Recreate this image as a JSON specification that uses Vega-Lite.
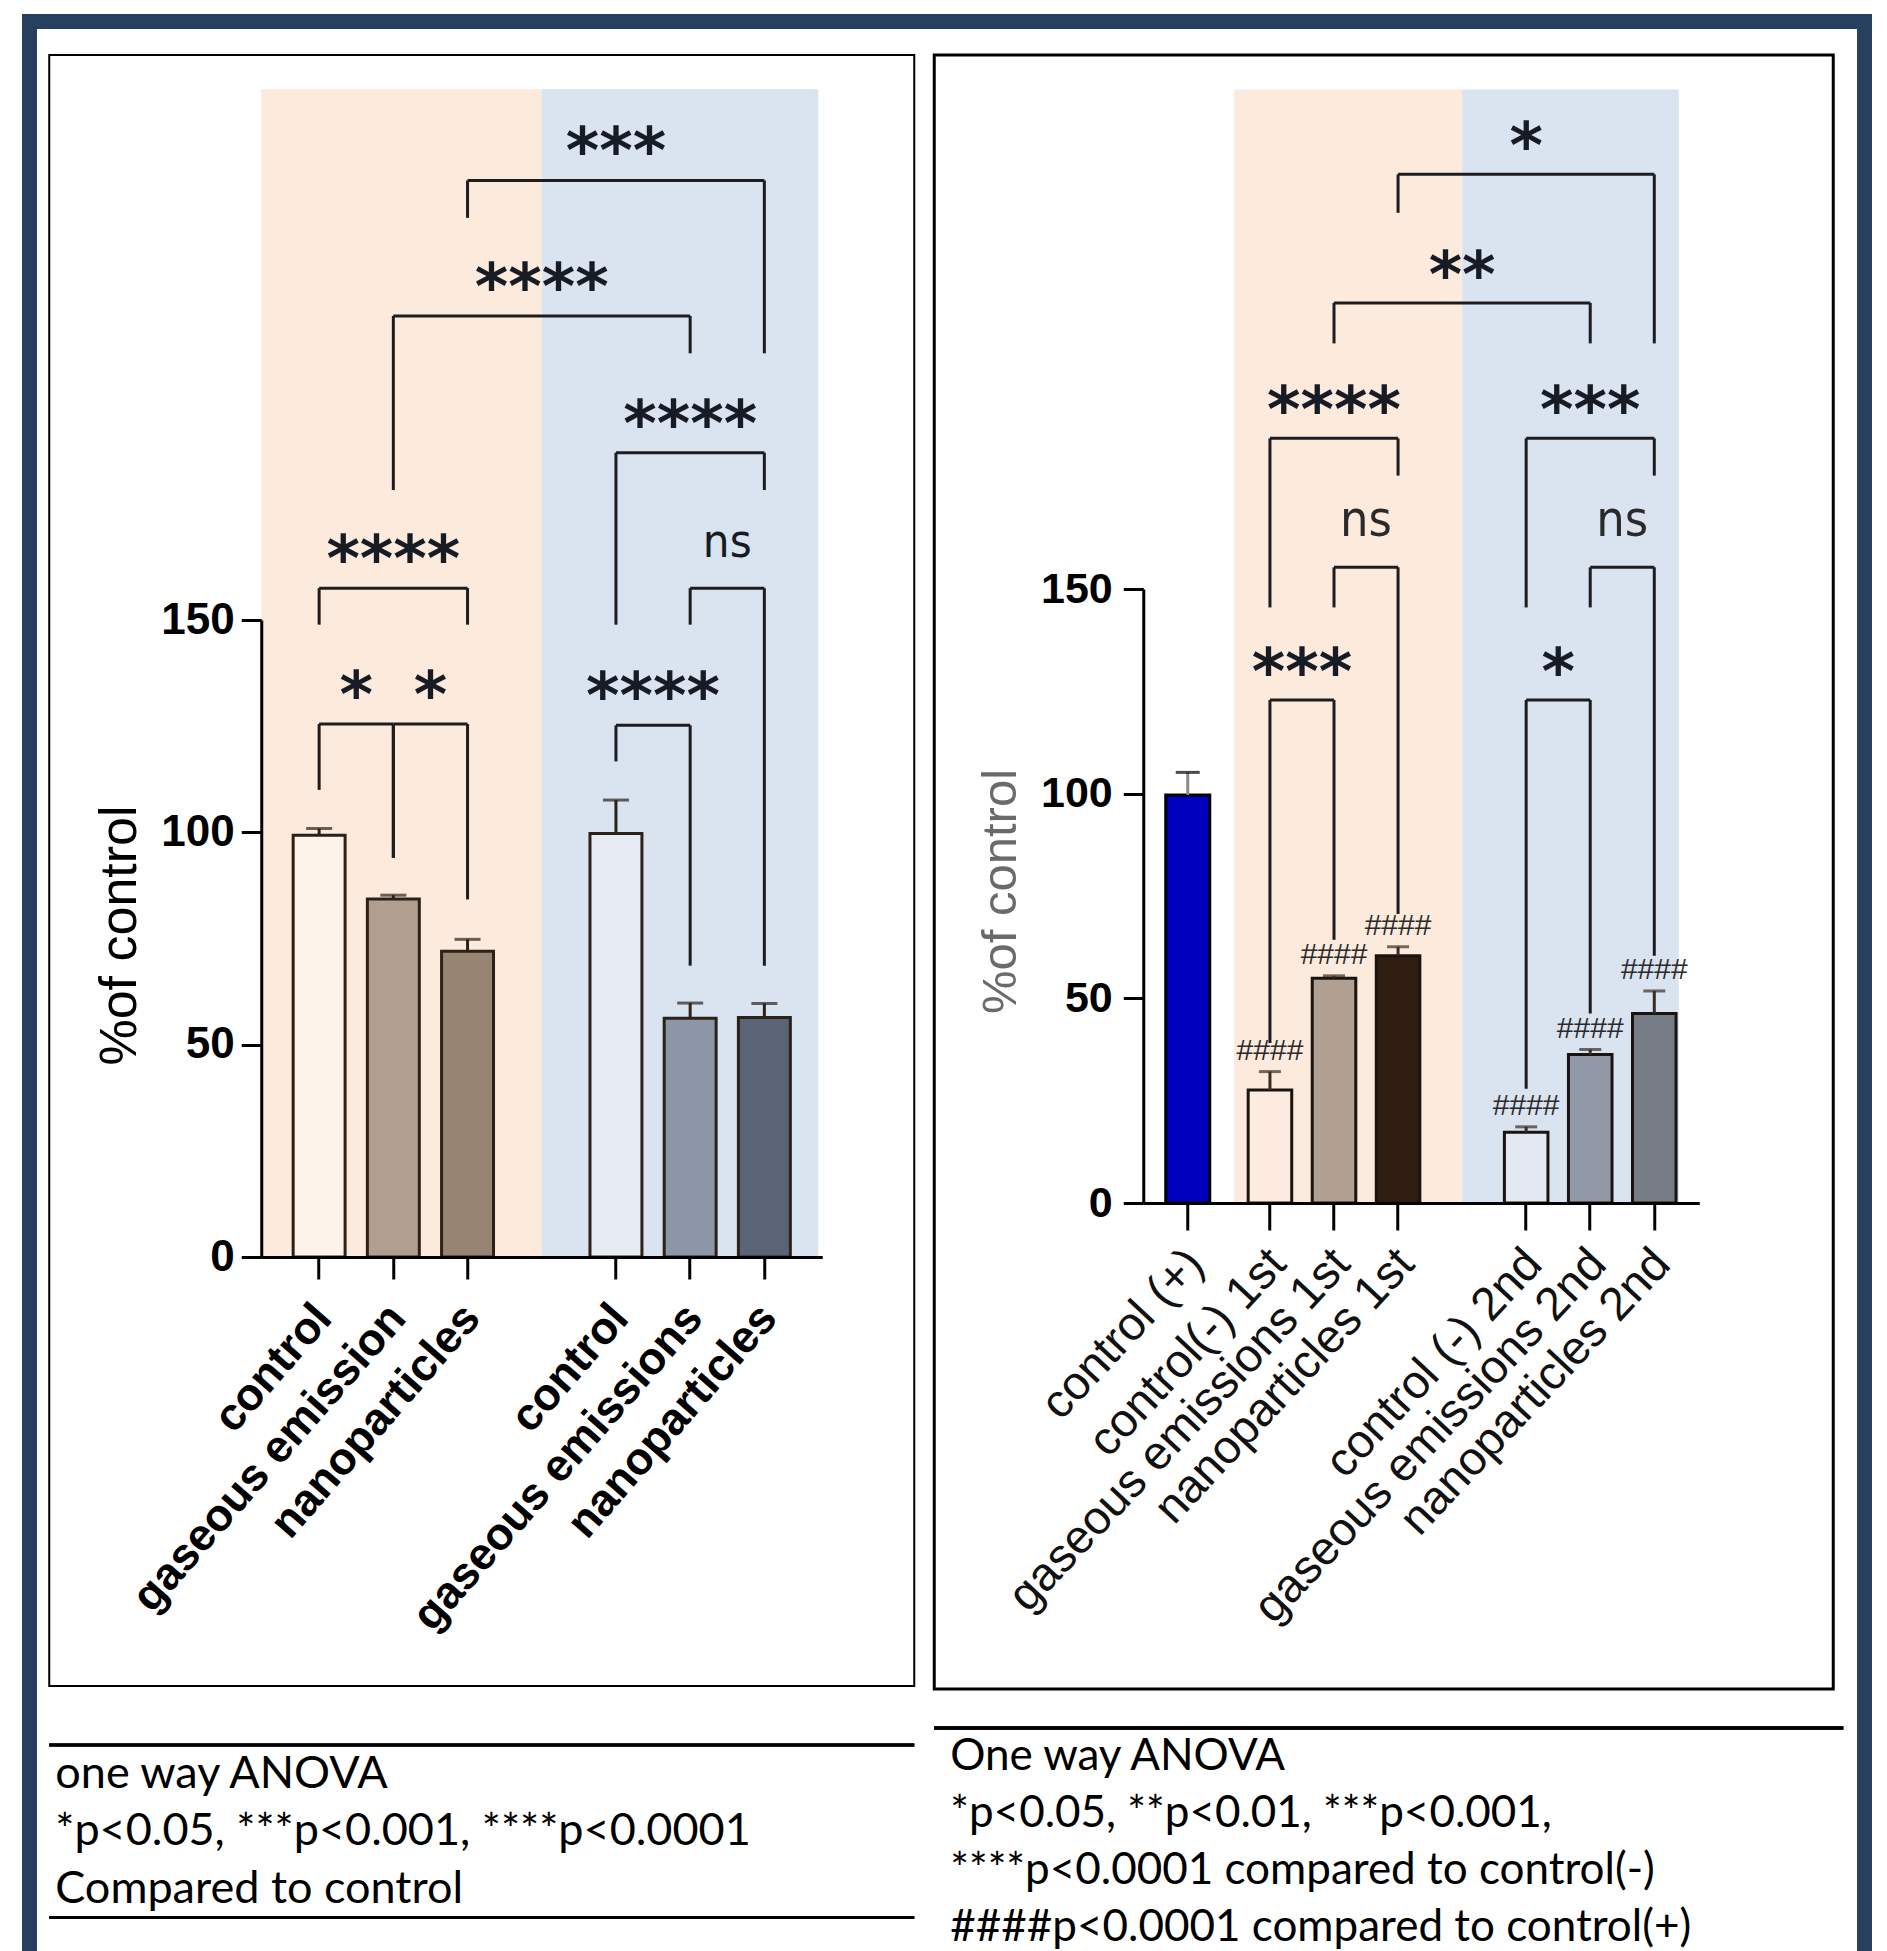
{
  "$schema": "https://vega.github.io/schema/vega-lite/v6.json",
  "background": "white",
  "padding": {"left": 22, "top": 14, "right": 0, "bottom": 0},
  "config": {"view": {"stroke": null}, "axis": {"grid": false}},
  "resolve": {"scale": {"fill": "independent"}},
  "datasets": {
    "leftBars": [
      {"id": "control|A", "mean": 99.3, "upper": 100.9},
      {"id": "gaseous emission|A", "mean": 84.3, "upper": 85.2},
      {"id": "nanoparticles|A", "mean": 72.0, "upper": 74.8},
      {"id": "control|B", "mean": 99.7, "upper": 107.6},
      {"id": "gaseous emissions|B", "mean": 56.2, "upper": 59.8},
      {"id": "nanoparticles|B", "mean": 56.4, "upper": 59.7}
    ],
    "leftBrackets": [
      {"from": "control|A", "to": "gaseous emission|A", "level": 125.5, "endL": 110, "endR": 94, "label": "*", "at": "control|A", "half": true},
      {"from": "gaseous emission|A", "to": "nanoparticles|A", "level": 125.5, "endL": 94, "endR": 84.2, "label": "*", "at": "gaseous emission|A", "half": true},
      {"from": "control|A", "to": "nanoparticles|A", "level": 157.5, "endL": 148.9, "endR": 148.9, "label": "****", "at": "gaseous emission|A", "half": false},
      {"from": "control|B", "to": "gaseous emissions|B", "level": 125.2, "endL": 116.7, "endR": 68.6, "label": "****", "at": "control|B", "half": true},
      {"from": "gaseous emissions|B", "to": "nanoparticles|B", "level": 157.5, "endL": 148.9, "endR": 68.6, "label": "ns", "at": "gaseous emissions|B", "half": true},
      {"from": "control|B", "to": "nanoparticles|B", "level": 189.4, "endL": 148.9, "endR": 180.6, "label": "****", "at": "gaseous emissions|B", "half": false},
      {"from": "gaseous emission|A", "to": "gaseous emissions|B", "level": 221.6, "endL": 180.6, "endR": 212.8, "label": "****", "at": "gap", "half": false},
      {"from": "nanoparticles|A", "to": "nanoparticles|B", "level": 253.5, "endL": 244.7, "endR": 212.8, "label": "***", "at": "control|B", "half": false}
    ],
    "rightBars": [
      {"id": "control(-) 1st", "mean": 27.6, "upper": 32.1, "sig": "####"},
      {"id": "gaseous emissions 1st", "mean": 54.9, "upper": 55.5, "sig": "####"},
      {"id": "nanoparticles 1st", "mean": 60.4, "upper": 62.6, "sig": "####"},
      {"id": "control (-) 2nd", "mean": 17.3, "upper": 18.6, "sig": "####"},
      {"id": "gaseous emissions 2nd", "mean": 36.3, "upper": 37.5, "sig": "####"},
      {"id": "nanoparticles 2nd", "mean": 46.3, "upper": 51.8, "sig": "####"}
    ],
    "plusBar": [
      {"id": "control (+)", "mean": 99.7, "upper": 105.2}
    ],
    "rightBrackets": [
      {"from": "control(-) 1st", "to": "gaseous emissions 1st", "level": 122.9, "endL": 39.1, "endR": 64.3, "label": "***", "at": "control(-) 1st", "half": true},
      {"from": "gaseous emissions 1st", "to": "nanoparticles 1st", "level": 155.3, "endL": 145.5, "endR": 70.6, "label": "ns", "at": "gaseous emissions 1st", "half": true},
      {"from": "control(-) 1st", "to": "nanoparticles 1st", "level": 186.8, "endL": 145.5, "endR": 177.7, "label": "****", "at": "gaseous emissions 1st", "half": false},
      {"from": "control (-) 2nd", "to": "gaseous emissions 2nd", "level": 122.9, "endL": 27.9, "endR": 46.3, "label": "*", "at": "control (-) 2nd", "half": true},
      {"from": "gaseous emissions 2nd", "to": "nanoparticles 2nd", "level": 155.3, "endL": 145.5, "endR": 60.4, "label": "ns", "at": "gaseous emissions 2nd", "half": true},
      {"from": "control (-) 2nd", "to": "nanoparticles 2nd", "level": 186.8, "endL": 145.5, "endR": 177.7, "label": "***", "at": "gaseous emissions 2nd", "half": false},
      {"from": "gaseous emissions 1st", "to": "gaseous emissions 2nd", "level": 219.9, "endL": 210, "endR": 210, "label": "**", "at": "gap", "half": false},
      {"from": "nanoparticles 1st", "to": "nanoparticles 2nd", "level": 251.3, "endL": 241.9, "endR": 210, "label": "*", "at": "control (-) 2nd", "half": false}
    ],
    "leftNotes": [
      {"line": "1", "text": "one way ANOVA"},
      {"line": "2", "text": "*p<0.05, ***p<0.001, ****p<0.0001"},
      {"line": "3", "text": "Compared to control"}
    ],
    "rightNotes": [
      {"line": "1", "text": "One way ANOVA"},
      {"line": "2", "text": "*p<0.05, **p<0.01, ***p<0.001,"},
      {"line": "3", "text": "****p<0.0001 compared to control(-)"},
      {"line": "4", "text": "####p<0.0001 compared to control(+)"}
    ]
  },
  "spacing": 0,
  "hconcat": [
    {
      "width": 15, "height": 1960,
      "view": {"fill": "#27405F", "stroke": null},
      "data": {"values": [{}]},
      "mark": {"type": "rect", "color": "#27405F"},
      "encoding": {}
    },
    {
      "spacing": 24,
      "center": true,
      "resolve": {"scale": {"fill": "independent"}},
      "vconcat": [
        {
          "width": 1820, "height": 15,
          "view": {"fill": "#27405F", "stroke": null},
          "data": {"values": [{}]},
          "mark": {"type": "rect", "color": "#27405F"},
          "encoding": {}
        },
        {
          "spacing": 16,
          "resolve": {"scale": {"fill": "independent"}},
          "hconcat": [
            {
              "spacing": 56,
              "vconcat": [
                {
                  "width": 865, "height": 1631,
                  "view": {"stroke": "#000", "strokeWidth": 2},
                  "layer": [
                    {
                      "data": {"values": [{"series": "A"}]},
                      "mark": {"type": "rect", "color": "#FCEADC"},
                      "encoding": {
                        "x": {"datum": "control|A", "type": "nominal", "bandPosition": -0.614,
                              "scale": {"domain": ["control|A", "gaseous emission|A", "nanoparticles|A", "gap", "control|B", "gaseous emissions|B", "nanoparticles|B"], "range": [212, 773], "paddingInner": 0.3, "paddingOuter": 0.43}},
                        "x2": {"datum": "gap", "bandPosition": 0.5},
                        "y": {"datum": 0, "type": "quantitative", "scale": {"domain": [0, 150], "range": [1202, 565], "nice": false, "zero": false}},
                        "y2": {"datum": 275}
                      }
                    },
                    {
                      "data": {"values": [{"series": "B"}]},
                      "mark": {"type": "rect", "color": "#DAE3F0"},
                      "encoding": {
                        "x": {"datum": "gap", "type": "nominal", "bandPosition": 0.5,
                              "scale": {"domain": ["control|A", "gaseous emission|A", "nanoparticles|A", "gap", "control|B", "gaseous emissions|B", "nanoparticles|B"], "range": [212, 773], "paddingInner": 0.3, "paddingOuter": 0.43}},
                        "x2": {"datum": "nanoparticles|B", "bandPosition": 1.538},
                        "y": {"datum": 0, "type": "quantitative", "scale": {"domain": [0, 150], "range": [1202, 565], "nice": false, "zero": false}},
                        "y2": {"datum": 275}
                      }
                    },
                    {
                      "data": {"name": "leftBars"},
                      "mark": {"type": "bar", "stroke": "#2b2119", "strokeWidth": 3},
                      "encoding": {
                        "x": {"field": "id", "type": "nominal",
                              "scale": {"domain": ["control|A", "gaseous emission|A", "nanoparticles|A", "gap", "control|B", "gaseous emissions|B", "nanoparticles|B"], "range": [212, 773], "paddingInner": 0.3, "paddingOuter": 0.43},
                              "axis": {"orient": "bottom", "offset": -429, "values": ["control|A", "gaseous emission|A", "nanoparticles|A", "control|B", "gaseous emissions|B", "nanoparticles|B"],
                                       "labelExpr": "split(datum.value, '|')[0]", "labelAngle": -49, "labelFont": "Liberation Sans", "labelFontWeight": "bold", "labelFontSize": 45, "labelColor": "#000",
                                       "labelPadding": 31, "labelOffset": 4, "labelOverlap": false, "labelBound": false, "labelFlush": false, "labelLimit": 1000,
                                       "tickSize": 22, "tickWidth": 3, "tickColor": "#000", "domainWidth": 3, "domainColor": "#000", "title": null, "zindex": 1}},
                        "y": {"field": "mean", "type": "quantitative",
                              "scale": {"domain": [0, 150], "range": [1202, 565], "nice": false, "zero": false},
                              "axis": {"orient": "left", "offset": -212, "values": [0, 50, 100, 150], "labelFont": "Liberation Sans", "labelFontWeight": "bold", "labelFontSize": 44, "labelColor": "#000", "labelPadding": 7,
                                       "tickSize": 20, "tickWidth": 3, "tickColor": "#000", "domainWidth": 3, "domainColor": "#000", "grid": false,
                                       "title": "%of control", "titleFont": "Liberation Sans", "titleFontWeight": "normal", "titleFontSize": 52, "titleColor": "#000", "titleAngle": -90, "titleAlign": "center", "titleBaseline": "middle", "titleX": -142, "titleY": 880, "zindex": 1}},
                        "fill": {"field": "id", "type": "nominal", "legend": null,
                                 "scale": {"domain": ["control|A", "gaseous emission|A", "nanoparticles|A", "control|B", "gaseous emissions|B", "nanoparticles|B"], "range": ["#FDF3EB", "#B09E8F", "#978473", "#E7ECF4", "#8D96A6", "#5B6477"]}}
                      }
                    },
                    {
                      "data": {"name": "leftBars"},
                      "mark": {"type": "rule", "color": "#2b2119", "strokeWidth": 3},
                      "encoding": {
                        "x": {"field": "id", "type": "nominal", "scale": {"domain": ["control|A", "gaseous emission|A", "nanoparticles|A", "gap", "control|B", "gaseous emissions|B", "nanoparticles|B"], "range": [212, 773], "paddingInner": 0.3, "paddingOuter": 0.43}},
                        "y": {"field": "mean", "type": "quantitative", "scale": {"domain": [0, 150], "range": [1202, 565], "nice": false, "zero": false}},
                        "y2": {"field": "upper"}
                      }
                    },
                    {
                      "data": {"name": "leftBars"},
                      "mark": {"type": "tick", "orient": "horizontal", "color": "#2b2119", "size": 26, "thickness": 3},
                      "encoding": {
                        "x": {"field": "id", "type": "nominal", "scale": {"domain": ["control|A", "gaseous emission|A", "nanoparticles|A", "gap", "control|B", "gaseous emissions|B", "nanoparticles|B"], "range": [212, 773], "paddingInner": 0.3, "paddingOuter": 0.43}},
                        "y": {"field": "upper", "type": "quantitative", "scale": {"domain": [0, 150], "range": [1202, 565], "nice": false, "zero": false}}
                      }
                    },
                    {
                      "data": {"name": "leftBrackets"},
                      "mark": {"type": "rule", "color": "#1d1d1f", "strokeWidth": 3},
                      "encoding": {
                        "x": {"field": "from", "type": "nominal", "scale": {"domain": ["control|A", "gaseous emission|A", "nanoparticles|A", "gap", "control|B", "gaseous emissions|B", "nanoparticles|B"], "range": [212, 773], "paddingInner": 0.3, "paddingOuter": 0.43}},
                        "x2": {"field": "to", "bandPosition": 0.5},
                        "y": {"field": "level", "type": "quantitative", "scale": {"domain": [0, 150], "range": [1202, 565], "nice": false, "zero": false}}
                      }
                    },
                    {
                      "data": {"name": "leftBrackets"},
                      "mark": {"type": "rule", "color": "#1d1d1f", "strokeWidth": 3},
                      "encoding": {
                        "x": {"field": "from", "type": "nominal", "scale": {"domain": ["control|A", "gaseous emission|A", "nanoparticles|A", "gap", "control|B", "gaseous emissions|B", "nanoparticles|B"], "range": [212, 773], "paddingInner": 0.3, "paddingOuter": 0.43}},
                        "y": {"field": "level", "type": "quantitative", "scale": {"domain": [0, 150], "range": [1202, 565], "nice": false, "zero": false}},
                        "y2": {"field": "endL"}
                      }
                    },
                    {
                      "data": {"name": "leftBrackets"},
                      "mark": {"type": "rule", "color": "#1d1d1f", "strokeWidth": 3},
                      "encoding": {
                        "x": {"field": "to", "type": "nominal", "scale": {"domain": ["control|A", "gaseous emission|A", "nanoparticles|A", "gap", "control|B", "gaseous emissions|B", "nanoparticles|B"], "range": [212, 773], "paddingInner": 0.3, "paddingOuter": 0.43}},
                        "y": {"field": "level", "type": "quantitative", "scale": {"domain": [0, 150], "range": [1202, 565], "nice": false, "zero": false}},
                        "y2": {"field": "endR"}
                      }
                    },
                    {
                      "data": {"name": "leftBrackets"},
                      "transform": [{"filter": "datum.label != 'ns' && !datum.half"}],
                      "mark": {"type": "text", "font": "DejaVu Sans", "fontWeight": "bold", "fontSize": 64, "baseline": "alphabetic", "align": "center", "dy": -7, "color": "#171b24"},
                      "encoding": {
                        "x": {"field": "at", "type": "nominal", "scale": {"domain": ["control|A", "gaseous emission|A", "nanoparticles|A", "gap", "control|B", "gaseous emissions|B", "nanoparticles|B"], "range": [212, 773], "paddingInner": 0.3, "paddingOuter": 0.43}},
                        "y": {"field": "level", "type": "quantitative", "scale": {"domain": [0, 150], "range": [1202, 565], "nice": false, "zero": false}},
                        "text": {"field": "label"}
                      }
                    },
                    {
                      "data": {"name": "leftBrackets"},
                      "transform": [{"filter": "datum.label != 'ns' && datum.half"}],
                      "mark": {"type": "text", "font": "DejaVu Sans", "fontWeight": "bold", "fontSize": 64, "baseline": "alphabetic", "align": "center", "dy": -7, "color": "#171b24"},
                      "encoding": {
                        "x": {"field": "at", "type": "nominal", "bandPosition": 1.2143, "scale": {"domain": ["control|A", "gaseous emission|A", "nanoparticles|A", "gap", "control|B", "gaseous emissions|B", "nanoparticles|B"], "range": [212, 773], "paddingInner": 0.3, "paddingOuter": 0.43}},
                        "y": {"field": "level", "type": "quantitative", "scale": {"domain": [0, 150], "range": [1202, 565], "nice": false, "zero": false}},
                        "text": {"field": "label"}
                      }
                    },
                    {
                      "data": {"name": "leftBrackets"},
                      "transform": [{"filter": "datum.label == 'ns'"}],
                      "mark": {"type": "text", "font": "Liberation Sans Narrow, DejaVu Sans Condensed, sans-serif", "fontSize": 47, "baseline": "alphabetic", "align": "center", "dy": -31, "color": "#171b24"},
                      "encoding": {
                        "x": {"field": "at", "type": "nominal", "bandPosition": 1.2143, "scale": {"domain": ["control|A", "gaseous emission|A", "nanoparticles|A", "gap", "control|B", "gaseous emissions|B", "nanoparticles|B"], "range": [212, 773], "paddingInner": 0.3, "paddingOuter": 0.43}},
                        "y": {"field": "level", "type": "quantitative", "scale": {"domain": [0, 150], "range": [1202, 565], "nice": false, "zero": false}},
                        "text": {"field": "label"}
                      }
                    }
                  ]
                },
                {
                  "width": 865, "height": 172.5,
                  "data": {"name": "leftNotes"},
                  "layer": [
                    {
                      "mark": {"type": "text", "align": "left", "baseline": "middle", "font": "Lato", "fontSize": 45, "dx": 6, "color": "#000"},
                      "encoding": {
                        "x": {"value": 0},
                        "y": {"field": "line", "type": "ordinal", "axis": null, "scale": {"domain": ["1", "2", "3"], "paddingInner": 0, "paddingOuter": 0}},
                        "text": {"field": "text"}
                      }
                    },
                    {
                      "mark": {"type": "rule", "color": "#000", "strokeWidth": 3},
                      "encoding": {"y": {"datum": "1", "type": "ordinal", "bandPosition": 0, "axis": null, "scale": {"domain": ["1", "2", "3"], "paddingInner": 0, "paddingOuter": 0}}}
                    },
                    {
                      "mark": {"type": "rule", "color": "#000", "strokeWidth": 3},
                      "encoding": {"y": {"datum": "3", "type": "ordinal", "bandPosition": 1, "axis": null, "scale": {"domain": ["1", "2", "3"], "paddingInner": 0, "paddingOuter": 0}}}
                    }
                  ]
                }
              ]
            },
            {
              "spacing": 35,
              "vconcat": [
                {
                  "width": 899, "height": 1634,
                  "view": {"stroke": "#000", "strokeWidth": 3},
                  "resolve": {"scale": {"x": "independent"}, "axis": {"x": "independent"}},
                  "layer": [
                    {
                      "layer": [
                        {
                          "data": {"values": [{"series": "1st"}]},
                          "mark": {"type": "rect", "color": "#FCEADC"},
                          "encoding": {
                            "x": {"datum": "control(-) 1st", "type": "nominal", "bandPosition": -0.323,
                                  "scale": {"domain": ["control(-) 1st", "gaseous emissions 1st", "nanoparticles 1st", "gap", "control (-) 2nd", "gaseous emissions 2nd", "nanoparticles 2nd"], "range": [209, 765], "paddingInner": 0.32, "paddingOuter": 1.15, "align": 0.819}},
                            "x2": {"datum": "gap", "bandPosition": 0.5},
                            "y": {"datum": 0, "type": "quantitative", "scale": {"domain": [0, 150], "range": [1148, 534], "nice": false, "zero": false}},
                            "y2": {"datum": 272}
                          }
                        },
                        {
                          "data": {"values": [{"series": "2nd"}]},
                          "mark": {"type": "rect", "color": "#DAE3F0"},
                          "encoding": {
                            "x": {"datum": "gap", "type": "nominal", "bandPosition": 0.5,
                                  "scale": {"domain": ["control(-) 1st", "gaseous emissions 1st", "nanoparticles 1st", "gap", "control (-) 2nd", "gaseous emissions 2nd", "nanoparticles 2nd"], "range": [209, 765], "paddingInner": 0.32, "paddingOuter": 1.15, "align": 0.819}},
                            "x2": {"datum": "nanoparticles 2nd", "bandPosition": 1.062},
                            "y": {"datum": 0, "type": "quantitative", "scale": {"domain": [0, 150], "range": [1148, 534], "nice": false, "zero": false}},
                            "y2": {"datum": 272}
                          }
                        },
                        {
                          "data": {"name": "rightBars"},
                          "mark": {"type": "bar", "stroke": "#1a1410", "strokeWidth": 3},
                          "encoding": {
                            "x": {"field": "id", "type": "nominal",
                                  "scale": {"domain": ["control(-) 1st", "gaseous emissions 1st", "nanoparticles 1st", "gap", "control (-) 2nd", "gaseous emissions 2nd", "nanoparticles 2nd"], "range": [209, 765], "paddingInner": 0.32, "paddingOuter": 1.15, "align": 0.819},
                                  "axis": {"orient": "bottom", "offset": -486, "values": ["control(-) 1st", "gaseous emissions 1st", "nanoparticles 1st", "control (-) 2nd", "gaseous emissions 2nd", "nanoparticles 2nd"],
                                           "labelAngle": -47, "labelFont": "Liberation Sans", "labelFontWeight": "normal", "labelFontSize": 47, "labelColor": "#111",
                                           "labelPadding": 26, "labelOffset": 8, "labelOverlap": false, "labelBound": false, "labelFlush": false, "labelLimit": 1000,
                                           "tickSize": 27, "tickWidth": 3, "tickColor": "#000", "domainWidth": 3, "domainColor": "#000", "title": null, "zindex": 1}},
                            "y": {"field": "mean", "type": "quantitative",
                                  "scale": {"domain": [0, 150], "range": [1148, 534], "nice": false, "zero": false},
                                  "axis": {"orient": "left", "offset": -209, "values": [0, 50, 100, 150], "labelFont": "Liberation Sans", "labelFontWeight": "bold", "labelFontSize": 43, "labelColor": "#000", "labelPadding": 11,
                                           "tickSize": 20, "tickWidth": 3, "tickColor": "#000", "domainWidth": 3, "domainColor": "#000", "grid": false,
                                           "title": "%of control", "titleFont": "Liberation Sans", "titleFontWeight": "normal", "titleFontSize": 49, "titleColor": "#6a6a6a", "titleAngle": -90, "titleAlign": "center", "titleBaseline": "middle", "titleX": -143, "titleY": 836, "zindex": 1}},
                            "fill": {"field": "id", "type": "nominal", "legend": null,
                                     "scale": {"domain": ["control(-) 1st", "gaseous emissions 1st", "nanoparticles 1st", "control (-) 2nd", "gaseous emissions 2nd", "nanoparticles 2nd"], "range": ["#FCEBDE", "#B1A092", "#301E12", "#E2E9F2", "#9199A9", "#767C86"]}}
                          }
                        },
                        {
                          "data": {"name": "rightBars"},
                          "mark": {"type": "rule", "color": "#3a2c22", "strokeWidth": 3},
                          "encoding": {
                            "x": {"field": "id", "type": "nominal", "scale": {"domain": ["control(-) 1st", "gaseous emissions 1st", "nanoparticles 1st", "gap", "control (-) 2nd", "gaseous emissions 2nd", "nanoparticles 2nd"], "range": [209, 765], "paddingInner": 0.32, "paddingOuter": 1.15, "align": 0.819}},
                            "y": {"field": "mean", "type": "quantitative", "scale": {"domain": [0, 150], "range": [1148, 534], "nice": false, "zero": false}},
                            "y2": {"field": "upper"}
                          }
                        },
                        {
                          "data": {"name": "rightBars"},
                          "mark": {"type": "tick", "orient": "horizontal", "color": "#3a2c22", "size": 22, "thickness": 3},
                          "encoding": {
                            "x": {"field": "id", "type": "nominal", "scale": {"domain": ["control(-) 1st", "gaseous emissions 1st", "nanoparticles 1st", "gap", "control (-) 2nd", "gaseous emissions 2nd", "nanoparticles 2nd"], "range": [209, 765], "paddingInner": 0.32, "paddingOuter": 1.15, "align": 0.819}},
                            "y": {"field": "upper", "type": "quantitative", "scale": {"domain": [0, 150], "range": [1148, 534], "nice": false, "zero": false}}
                          }
                        },
                        {
                          "data": {"name": "rightBars"},
                          "mark": {"type": "text", "font": "Liberation Sans", "fontSize": 30, "baseline": "middle", "align": "center", "dy": -21, "color": "#2a2a2a"},
                          "encoding": {
                            "x": {"field": "id", "type": "nominal", "scale": {"domain": ["control(-) 1st", "gaseous emissions 1st", "nanoparticles 1st", "gap", "control (-) 2nd", "gaseous emissions 2nd", "nanoparticles 2nd"], "range": [209, 765], "paddingInner": 0.32, "paddingOuter": 1.15, "align": 0.819}},
                            "y": {"field": "upper", "type": "quantitative", "scale": {"domain": [0, 150], "range": [1148, 534], "nice": false, "zero": false}},
                            "text": {"field": "sig"}
                          }
                        },
                        {
                          "data": {"name": "rightBrackets"},
                          "mark": {"type": "rule", "color": "#1d1d1f", "strokeWidth": 3},
                          "encoding": {
                            "x": {"field": "from", "type": "nominal", "scale": {"domain": ["control(-) 1st", "gaseous emissions 1st", "nanoparticles 1st", "gap", "control (-) 2nd", "gaseous emissions 2nd", "nanoparticles 2nd"], "range": [209, 765], "paddingInner": 0.32, "paddingOuter": 1.15, "align": 0.819}},
                            "x2": {"field": "to", "bandPosition": 0.5},
                            "y": {"field": "level", "type": "quantitative", "scale": {"domain": [0, 150], "range": [1148, 534], "nice": false, "zero": false}}
                          }
                        },
                        {
                          "data": {"name": "rightBrackets"},
                          "mark": {"type": "rule", "color": "#1d1d1f", "strokeWidth": 3},
                          "encoding": {
                            "x": {"field": "from", "type": "nominal", "scale": {"domain": ["control(-) 1st", "gaseous emissions 1st", "nanoparticles 1st", "gap", "control (-) 2nd", "gaseous emissions 2nd", "nanoparticles 2nd"], "range": [209, 765], "paddingInner": 0.32, "paddingOuter": 1.15, "align": 0.819}},
                            "y": {"field": "level", "type": "quantitative", "scale": {"domain": [0, 150], "range": [1148, 534], "nice": false, "zero": false}},
                            "y2": {"field": "endL"}
                          }
                        },
                        {
                          "data": {"name": "rightBrackets"},
                          "mark": {"type": "rule", "color": "#1d1d1f", "strokeWidth": 3},
                          "encoding": {
                            "x": {"field": "to", "type": "nominal", "scale": {"domain": ["control(-) 1st", "gaseous emissions 1st", "nanoparticles 1st", "gap", "control (-) 2nd", "gaseous emissions 2nd", "nanoparticles 2nd"], "range": [209, 765], "paddingInner": 0.32, "paddingOuter": 1.15, "align": 0.819}},
                            "y": {"field": "level", "type": "quantitative", "scale": {"domain": [0, 150], "range": [1148, 534], "nice": false, "zero": false}},
                            "y2": {"field": "endR"}
                          }
                        },
                        {
                          "data": {"name": "rightBrackets"},
                          "transform": [{"filter": "datum.label != 'ns' && !datum.half"}],
                          "mark": {"type": "text", "font": "DejaVu Sans", "fontWeight": "bold", "fontSize": 64, "baseline": "alphabetic", "align": "center", "dy": -6, "color": "#171b24"},
                          "encoding": {
                            "x": {"field": "at", "type": "nominal", "scale": {"domain": ["control(-) 1st", "gaseous emissions 1st", "nanoparticles 1st", "gap", "control (-) 2nd", "gaseous emissions 2nd", "nanoparticles 2nd"], "range": [209, 765], "paddingInner": 0.32, "paddingOuter": 1.15, "align": 0.819}},
                            "y": {"field": "level", "type": "quantitative", "scale": {"domain": [0, 150], "range": [1148, 534], "nice": false, "zero": false}},
                            "text": {"field": "label"}
                          }
                        },
                        {
                          "data": {"name": "rightBrackets"},
                          "transform": [{"filter": "datum.label != 'ns' && datum.half"}],
                          "mark": {"type": "text", "font": "DejaVu Sans", "fontWeight": "bold", "fontSize": 64, "baseline": "alphabetic", "align": "center", "dy": -6, "color": "#171b24"},
                          "encoding": {
                            "x": {"field": "at", "type": "nominal", "bandPosition": 1.2353, "scale": {"domain": ["control(-) 1st", "gaseous emissions 1st", "nanoparticles 1st", "gap", "control (-) 2nd", "gaseous emissions 2nd", "nanoparticles 2nd"], "range": [209, 765], "paddingInner": 0.32, "paddingOuter": 1.15, "align": 0.819}},
                            "y": {"field": "level", "type": "quantitative", "scale": {"domain": [0, 150], "range": [1148, 534], "nice": false, "zero": false}},
                            "text": {"field": "label"}
                          }
                        },
                        {
                          "data": {"name": "rightBrackets"},
                          "transform": [{"filter": "datum.label == 'ns'"}],
                          "mark": {"type": "text", "font": "Liberation Sans Narrow, DejaVu Sans Condensed, sans-serif", "fontSize": 50, "baseline": "alphabetic", "align": "center", "dy": -31, "color": "#2a2a2a"},
                          "encoding": {
                            "x": {"field": "at", "type": "nominal", "bandPosition": 1.2353, "scale": {"domain": ["control(-) 1st", "gaseous emissions 1st", "nanoparticles 1st", "gap", "control (-) 2nd", "gaseous emissions 2nd", "nanoparticles 2nd"], "range": [209, 765], "paddingInner": 0.32, "paddingOuter": 1.15, "align": 0.819}},
                            "y": {"field": "level", "type": "quantitative", "scale": {"domain": [0, 150], "range": [1148, 534], "nice": false, "zero": false}},
                            "text": {"field": "label"}
                          }
                        }
                      ]
                    },
                    {
                      "data": {"name": "plusBar"},
                      "layer": [
                        {
                          "mark": {"type": "bar", "fill": "#0000BE", "stroke": "#000", "strokeWidth": 3},
                          "encoding": {
                            "x": {"field": "id", "type": "nominal",
                                  "scale": {"domain": ["control (+)"], "range": [209, 298], "paddingInner": 0, "paddingOuter": 0.511},
                                  "axis": {"orient": "bottom", "offset": -486, "domain": false, "labelAngle": -47, "labelFont": "Liberation Sans", "labelFontWeight": "normal", "labelFontSize": 47, "labelColor": "#111",
                                           "labelPadding": 26, "labelOffset": 8, "labelOverlap": false, "labelBound": false, "labelFlush": false, "labelLimit": 1000,
                                           "tickSize": 27, "tickWidth": 3, "tickColor": "#000", "title": null, "zindex": 1}},
                            "y": {"field": "mean", "type": "quantitative", "scale": {"domain": [0, 150], "range": [1148, 534], "nice": false, "zero": false}}
                          }
                        },
                        {
                          "mark": {"type": "rule", "color": "#8a8a8a", "strokeWidth": 3},
                          "encoding": {
                            "x": {"field": "id", "type": "nominal", "scale": {"domain": ["control (+)"], "range": [209, 298], "paddingInner": 0, "paddingOuter": 0.511}},
                            "y": {"field": "mean", "type": "quantitative", "scale": {"domain": [0, 150], "range": [1148, 534], "nice": false, "zero": false}},
                            "y2": {"field": "upper"}
                          }
                        },
                        {
                          "mark": {"type": "tick", "orient": "horizontal", "color": "#000", "size": 24, "thickness": 3},
                          "encoding": {
                            "x": {"field": "id", "type": "nominal", "scale": {"domain": ["control (+)"], "range": [209, 298], "paddingInner": 0, "paddingOuter": 0.511}},
                            "y": {"field": "upper", "type": "quantitative", "scale": {"domain": [0, 150], "range": [1148, 534], "nice": false, "zero": false}}
                          }
                        }
                      ]
                    }
                  ]
                },
                {
                  "width": 909, "height": 229,
                  "data": {"name": "rightNotes"},
                  "layer": [
                    {
                      "mark": {"type": "text", "align": "left", "baseline": "middle", "font": "Lato", "fontSize": 44, "dx": 16, "color": "#000"},
                      "encoding": {
                        "x": {"value": 0},
                        "y": {"field": "line", "type": "ordinal", "axis": null, "scale": {"domain": ["1", "2", "3", "4"], "paddingInner": 0, "paddingOuter": 0}},
                        "text": {"field": "text"}
                      }
                    },
                    {
                      "mark": {"type": "rule", "color": "#000", "strokeWidth": 3},
                      "encoding": {"y": {"datum": "1", "type": "ordinal", "bandPosition": 0, "axis": null, "scale": {"domain": ["1", "2", "3", "4"], "paddingInner": 0, "paddingOuter": 0}}}
                    },
                    {
                      "mark": {"type": "rule", "color": "#000", "strokeWidth": 3},
                      "encoding": {"y": {"datum": "4", "type": "ordinal", "bandPosition": 1, "axis": null, "scale": {"domain": ["1", "2", "3", "4"], "paddingInner": 0, "paddingOuter": 0}}}
                    }
                  ]
                }
              ]
            }
          ]
        }
      ]
    },
    {
      "width": 15, "height": 1960,
      "view": {"fill": "#27405F", "stroke": null},
      "data": {"values": [{}]},
      "mark": {"type": "rect", "color": "#27405F"},
      "encoding": {}
    }
  ]
}
